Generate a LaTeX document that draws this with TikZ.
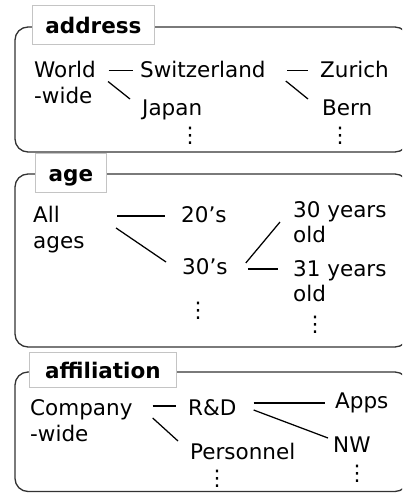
\documentclass[tikz,border=0pt]{standalone}
\usepackage{fontspec}
\setmainfont{DejaVu Sans}
\usetikzlibrary{calc}
\definecolor{framecol}{HTML}{333333}
\definecolor{tabcol}{HTML}{C4C4C4}
\begin{document}
\begin{tikzpicture}[x=1pt,y=-1pt,
  txt/.style={anchor=base west,inner sep=0pt,font=\fontsize{21.5}{25.5}\selectfont,text=black},
  vdots/.style={anchor=center,inner sep=0pt,font=\fontsize{21.5}{25.5}\selectfont},
  frame/.style={draw=framecol,line width=1.3pt,rounded corners=13pt},
  tab/.style={draw=tabcol,line width=0.9pt,fill=white,anchor=north west,inner sep=0pt,
     text height=20pt,text depth=2pt,font=\bfseries\fontsize{21.5}{25.5}\selectfont},
  link/.style={line width=1.25pt,draw=black}]
\useasboundingbox (0,0) rectangle (402,493);
\clip (0,0) rectangle (402,493);
% frames
\draw[frame] (15,27) rectangle (408,152);
\draw[frame] (15,174) rectangle (408,347);
\draw[frame] (15,372) rectangle (408,491.5);
% tabs
\node[tab,minimum width=122pt,minimum height=39pt] (tabaddr) at (32,5) {address};
\node[tab,minimum width=71pt,minimum height=39pt] (tabage) at (35,153) {age};
\node[tab,minimum width=147pt,minimum height=35pt] (tabaff) at (29,352) {affiliation};
% address
\node[txt] (w1) at (34,77.5) {World};
\node[txt] (w2) at (34,103) {-wide};
\node[txt] (sw) at (140,77.5) {Switzerland};
\node[txt] (jp) at (142,115) {Japan};
\node[txt] (zu) at (320,77.5) {Zurich};
\node[txt] (be) at (322,115) {Bern};
\node[vdots] (d1) at (190,136) {⋮};
\node[vdots] (d2) at (340,136) {⋮};
\draw[link] ($(w1.base east)+(12.5,-7)$) -- ($(sw.base west)+(-7,-7)$);
\draw[link] ($(w1.base east)+(12,4)$) -- ($(jp.base west)+(-12,-16)$);
\draw[link] ($(sw.base east)+(21.5,-7)$) -- ($(zu.base west)+(-12,-7)$);
\draw[link] ($(sw.base east)+(20,3.5)$) -- ($(be.base west)+(-14,-16)$);
% age
\node[txt] (al) at (33,222) {All};
\node[txt] (ag) at (33,248) {ages};
\node[txt] (t20) at (181,222) {20’s};
\node[txt] (t30) at (182,274) {30’s};
\node[txt] (y30) at (293,217) {30 years};
\node[txt] (y30b) at (293,242) {old};
\node[txt] (y31) at (293,276) {31 years};
\node[txt] (y31b) at (293,301) {old};
\node[vdots] (d3) at (198,311) {⋮};
\node[vdots] (d4) at (315,325) {⋮};
\draw[link] ($(al.base east)+(57,-6)$) -- ($(t20.base west)+(-16,-6)$);
\draw[link] ($(al.base east)+(56,6)$) -- ($(t30.base west)+(-16,-12)$);
\draw[link] ($(t30.base east)+(18,-11)$) -- ($(y30.base west)+(-13,5)$);
\draw[link] ($(t30.base east)+(20,-5)$) -- ($(y31.base west)+(-15,-7)$);
% affiliation
\node[txt] (co) at (30,415) {Company};
\node[txt] (cw) at (30,441) {-wide};
\node[txt] (rd) at (188,415) {R\&D};
\node[txt] (pe) at (190,459) {Personnel};
\node[txt] (ap) at (335,408) {Apps};
\node[txt] (nw) at (333,452) {NW};
\node[vdots] (d5) at (217,479) {⋮};
\node[vdots] (d6) at (357,474) {⋮};
\draw[link] ($(co.base east)+(20,-9)$) -- ($(rd.base west)+(-12,-9)$);
\draw[link] ($(co.base east)+(20,3)$) -- ($(pe.base west)+(-12,-18)$);
\draw[link] ($(rd.base east)+(17,-12)$) -- ($(ap.base west)+(-10,-5)$);
\draw[link] ($(rd.base east)+(17,-5)$) -- ($(nw.base west)+(-5,-14)$);
\end{tikzpicture}
\end{document}
